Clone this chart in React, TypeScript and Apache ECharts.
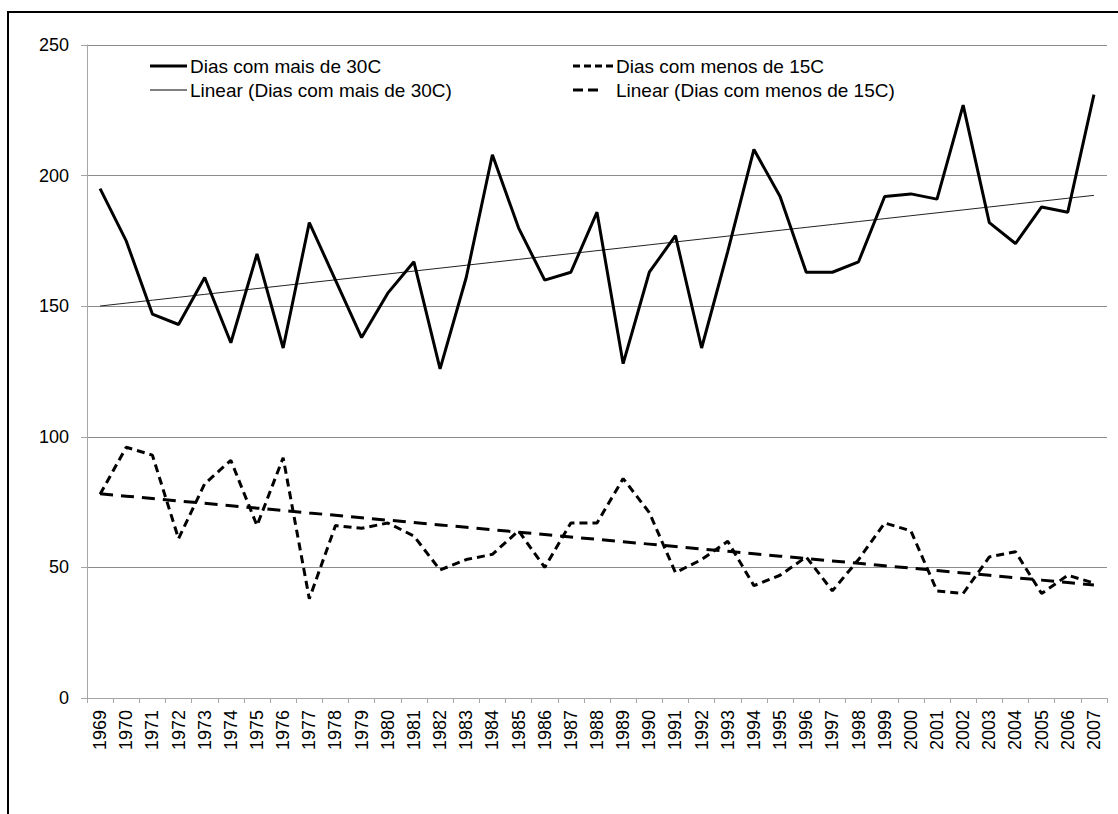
import React, { useEffect, useRef } from "react";
import * as echarts from "echarts";

const years: string[] = [
  "1969","1970","1971","1972","1973","1974","1975","1976","1977","1978",
  "1979","1980","1981","1982","1983","1984","1985","1986","1987","1988",
  "1989","1990","1991","1992","1993","1994","1995","1996","1997","1998",
  "1999","2000","2001","2002","2003","2004","2005","2006","2007",
];

const hotDays: number[] = [
  195, 175, 147, 143, 161, 136, 170, 134, 182, 160,
  138, 155, 167, 126, 161, 208, 180, 160, 163, 186,
  128, 163, 177, 134, 171, 210, 192, 163, 163, 167,
  192, 193, 191, 227, 182, 174, 188, 186, 231,
];

const coldDays: number[] = [
  78, 96, 93, 61, 82, 91, 66, 92, 38, 66,
  65, 67, 62, 49, 53, 55, 64, 50, 67, 67,
  84, 71, 48, 53, 60, 43, 47, 54, 41, 53,
  67, 64, 41, 40, 54, 56, 40, 47, 44,
];

const yTicks: number[] = [0, 50, 100, 150, 200, 250];

const NAME_HOT = "Dias com mais de 30C";
const NAME_COLD = "Dias com menos de 15C";
const NAME_LIN_HOT = "Linear (Dias com mais de 30C)";
const NAME_LIN_COLD = "Linear (Dias com menos de 15C)";

// least-squares linear trend (what the "Linear (...)" trendline shows)
function linearTrend(values: number[]): number[] {
  const n = values.length;
  let sx = 0, sy = 0, sxy = 0, sxx = 0;
  values.forEach((v, i) => {
    sx += i; sy += v; sxy += i * v; sxx += i * i;
  });
  const b = (n * sxy - sx * sy) / (n * sxx - sx * sx);
  const a = (sy - b * sx) / n;
  return values.map((_, i) => +(a + b * i).toFixed(2));
}

const FONT = "'Liberation Sans', Arial, sans-serif";

type LegendEntry = {
  name: string;
  x: number;
  y: number;
  len: number;
  textX: number;
  width: number;
  dash: number[] | null;
};

const legendEntries: LegendEntry[] = [
  { name: NAME_HOT, x: 150, y: 66, len: 37, textX: 190, width: 3, dash: null },
  { name: NAME_COLD, x: 573, y: 66, len: 40, textX: 616, width: 3, dash: [7, 4] },
  { name: NAME_LIN_HOT, x: 150, y: 90, len: 37, textX: 190, width: 1, dash: null },
  { name: NAME_LIN_COLD, x: 573, y: 90, len: 25, textX: 616, width: 3, dash: [10, 5] },
];

export default function App() {
  const ref = useRef<HTMLDivElement>(null);

  useEffect(() => {
    if (!ref.current) return;
    const chart = echarts.init(ref.current, undefined, { renderer: "svg" });

    const legendGraphics: any[] = [];
    legendEntries.forEach((e) => {
      legendGraphics.push({
        type: "line",
        shape: { x1: e.x, y1: e.y, x2: e.x + e.len, y2: e.y },
        style: {
          stroke: "#000",
          lineWidth: e.width,
          lineDash: e.dash || undefined,
        },
        silent: true,
      });
      legendGraphics.push({
        type: "text",
        x: e.textX,
        y: e.y,
        style: {
          text: e.name,
          fontFamily: FONT,
          fontSize: 19,
          fill: "#000",
          verticalAlign: "middle",
          align: "left",
        },
        silent: true,
      });
    });

    chart.setOption({
      animation: false,
      backgroundColor: "#fff",
      textStyle: { fontFamily: FONT },
      grid: { left: 87, right: 11, top: 45, bottom: 116, containLabel: false },
      graphic: [
        {
          type: "rect",
          shape: { x: 8, y: 12, width: 1400, height: 1000 },
          style: { fill: "none", stroke: "#000", lineWidth: 2 },
          silent: true,
          z: 100,
        },
        ...legendGraphics,
      ],
      xAxis: {
        type: "category",
        data: years,
        boundaryGap: true,
        axisLine: { show: true, lineStyle: { color: "#a6a6a6", width: 1 } },
        axisTick: { show: true, alignWithLabel: false, length: 5, lineStyle: { color: "#a6a6a6" } },
        axisLabel: {
          rotate: 90,
          interval: 0,
          margin: 12,
          fontSize: 18,
          fontFamily: FONT,
          color: "#000",
        },
        splitLine: { show: false },
      },
      yAxis: {
        type: "value",
        min: yTicks[0],
        max: yTicks[yTicks.length - 1],
        interval: 50,
        axisLine: { show: true, lineStyle: { color: "#a6a6a6", width: 1 } },
        axisTick: { show: true, length: 6, lineStyle: { color: "#a6a6a6" } },
        axisLabel: { margin: 18, fontSize: 18, fontFamily: FONT, color: "#000" },
        splitLine: { show: true, lineStyle: { color: "#8c8c8c", width: 1 } },
      },
      series: [
        {
          name: NAME_HOT,
          type: "line",
          data: hotDays,
          symbol: "none",
          showSymbol: false,
          color: "#000",
          lineStyle: { color: "#000", width: 3, type: "solid" },
          z: 3,
        },
        {
          name: NAME_COLD,
          type: "line",
          data: coldDays,
          symbol: "none",
          showSymbol: false,
          color: "#000",
          lineStyle: { color: "#000", width: 3, type: [8, 5] },
          z: 3,
        },
        {
          name: NAME_LIN_HOT,
          type: "line",
          data: linearTrend(hotDays),
          symbol: "none",
          showSymbol: false,
          color: "#000",
          lineStyle: { color: "#222", width: 1, type: "solid" },
          z: 2,
        },
        {
          name: NAME_LIN_COLD,
          type: "line",
          data: linearTrend(coldDays),
          symbol: "none",
          showSymbol: false,
          color: "#000",
          lineStyle: { color: "#000", width: 3, type: [13, 8] },
          z: 2,
        },
      ],
    });

    return () => chart.dispose();
  }, []);

  return (
    <div
      ref={ref}
      style={{ position: "fixed", left: 0, top: 0, width: 1118, height: 814, background: "#fff" }}
    />
  );
}
